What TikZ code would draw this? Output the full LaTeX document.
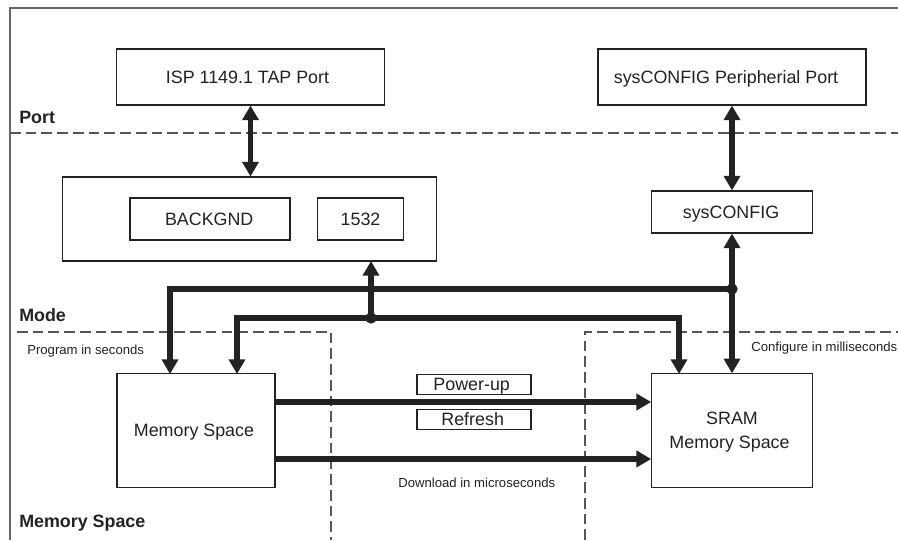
\documentclass[tikz,border=0pt]{standalone}
\usepackage{fontspec}
\setmainfont{Liberation Sans}
\usetikzlibrary{arrows.meta,calc}
\definecolor{ink}{HTML}{222222}
\definecolor{frameline}{HTML}{666666}
\definecolor{dashline}{HTML}{555555}
\newcommand{\nudgeL}[1]{\hspace*{#1}}
\tikzset{
  px/.style={x=0.75pt,y=-0.75pt},
  block/.style={draw=ink,line width=0.8pt,fill=white,text=ink,inner sep=0pt,align=center,font=\fontsize{13.4}{18}\selectfont},
  oneline/.style={block,text height=12.9pt,text depth=3.6pt},
  smalltag/.style={block,text height=12pt,text depth=3.2pt,font=\fontsize{13.4}{16}\selectfont},
  zonelabel/.style={anchor=west,inner sep=0pt,text=ink,font=\fontsize{13.4}{16}\selectfont\bfseries},
  note/.style={anchor=west,inner sep=0pt,text=ink,font=\fontsize{9.85}{12}\selectfont},
  zoneline/.style={draw=dashline,line width=0.95pt,dash pattern=on 8pt off 3.8pt},
  thick bus/.style={draw=ink,line width=3.9pt},
  bus one/.style={thick bus,-{Triangle[length=11pt,width=12pt]},shorten >=0pt},
  bus two/.style={thick bus,{Triangle[length=11pt,width=12pt]}-{Triangle[length=11pt,width=12pt]}},
  junction/.style={circle,fill=ink,inner sep=0pt,minimum size=8.5pt},
}
\begin{document}
\begin{tikzpicture}[px]
\useasboundingbox (0,0) rectangle (898,540);
\fill[white] (0,0) rectangle (898,540);
% frame
\draw[frameline,line width=1.4pt] (10,540) -- (10,8) -- (898,8);
% zone boundaries
\coordinate (portL) at (10,133);
\coordinate (portR) at (898,133);
\draw[zoneline] (portL) -- (portR);
\coordinate (modeL) at (17,332);
\coordinate (modeC) at (331,332);
\coordinate (modeCb) at (331,540);
\coordinate (modeD) at (585,540);
\coordinate (modeDt) at (585,332);
\coordinate (modeR) at (898,332);
\draw[zoneline] (modeL) -- (modeC) -- (modeCb);
\draw[zoneline] (modeD) -- (modeDt) -- (modeR);
% blocks
\node[oneline,minimum width=201pt,minimum height=42pt] (isp) at (250.5,77) {ISP 1149.1 TAP Port\nudgeL{4.5pt}};
\node[oneline,minimum width=201pt,minimum height=42pt] (periph) at (732,77) {sysCONFIG Peripherial Port\nudgeL{9pt}};
\node[block,minimum width=280pt,minimum height=63pt] (modebox) at (249.5,219) {};
\node[oneline,minimum width=120pt,minimum height=31.5pt] (backgnd) at (210,219) {BACKGND\nudgeL{1.2pt}};
\node[oneline,minimum width=65pt,minimum height=31.5pt] (n1532) at (360.5,219) {1532};
\node[oneline,minimum width=120.5pt,minimum height=31.5pt] (syscfg) at (732,212) {sysCONFIG\nudgeL{1.5pt}};
\node[oneline,minimum width=118.5pt,minimum height=85pt] (mem) at (196,430.5) {Memory Space\nudgeL{3pt}};
\node[block,minimum width=120.5pt,minimum height=85pt] (sram) at (732,430.5) {\rule{0pt}{12pt}SRAM\\Memory Space\nudgeL{3.7pt}};
\node[smalltag,minimum width=85.5pt,minimum height=15.5pt] (pwr) at (474,384.5) {Power-up\nudgeL{3.5pt}};
\node[smalltag,minimum width=85.5pt,minimum height=15.5pt] (rfr) at (474,419.5) {Refresh\nudgeL{2pt}};
% labels
\node[zonelabel] (lblport) at (19,117) {Port};
\node[zonelabel] (lblmode) at (19,315) {Mode};
\node[zonelabel] (lblmem) at (19,523) {Memory Space};
\node[note] (nprog) at (27,351) {Program in seconds};
\node[note] (ncfg) at (751,348) {Configure in milliseconds};
\node[note] (ndl) at (398,483) {Download in microseconds};
% bus junctions
\coordinate (busA) at (732,289);
\coordinate (busB) at (371,318);
\coordinate (memA) at (170,374);
\coordinate (memB) at (237,374);
\coordinate (sramB) at (679,374);
\coordinate (modeIn) at (371,261);
% connectors
\draw[bus two] (isp.south) -- (isp.south |- modebox.north);
\draw[bus two] (periph.south) -- (syscfg.north);
\draw[bus two] (syscfg.south) -- (sram.north);
\draw[bus one] (busB) -- (modeIn);
\draw[bus one] (busA) -| (memA);
\draw[bus one] (busB) -| (memB);
\draw[bus one] (busB) -| (sramB);
\draw[bus one] (mem.east |- 0,402) -- (sram.west |- 0,402);
\draw[bus one] (mem.east |- 0,459) -- (sram.west |- 0,459);
\node[junction] (dotA) at (busA) {};
\node[junction] (dotB) at (busB) {};
\end{tikzpicture}
\end{document}
